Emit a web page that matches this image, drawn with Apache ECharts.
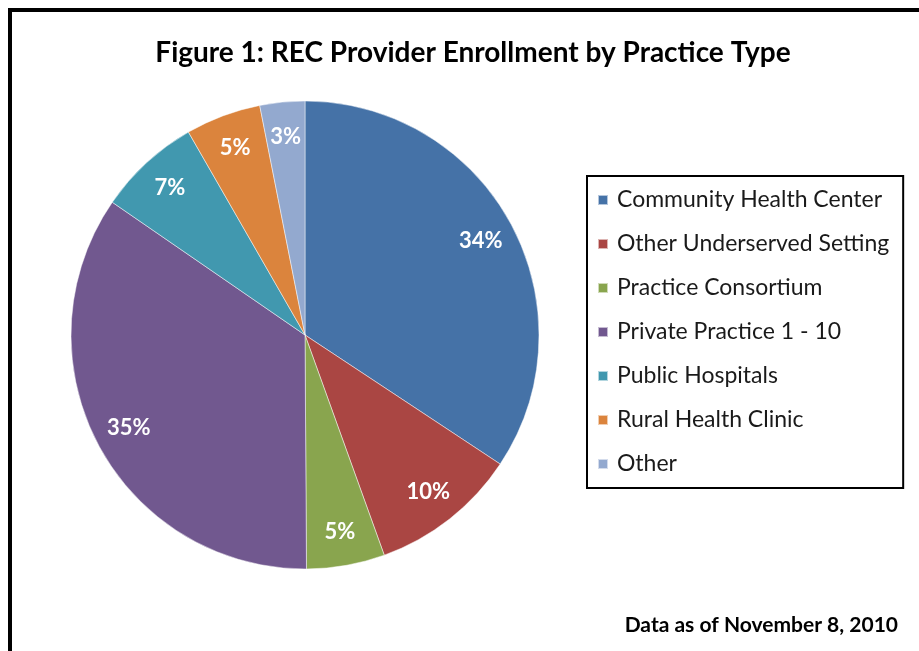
<!DOCTYPE html>
<html>
<head>
<meta charset="utf-8">
<script src="https://cdn.jsdelivr.net/npm/echarts@6/dist/echarts.min.js"></script>
<style>
html,body{margin:0;padding:0;background:#fff;}
#chart{width:919px;height:651px;}
</style>
</head>
<body>
<div id="chart"></div>
<script>
var categories = ['Community Health Center','Other Underserved Setting','Practice Consortium','Private Practice 1 - 10','Public Hospitals','Rural Health Clinic','Other'];
var values = [34.3, 10.2, 5.4, 34.7, 7.1, 5.2, 3.1];
var colors = ['#4572A7','#AA4643','#89A54E','#71588F','#4198AF','#DB843D','#93A9CF'];

var chart = echarts.init(document.getElementById('chart'), null, {renderer:'canvas'});
var data = categories.map(function(c,i){ return {name:c, value:values[i], itemStyle:{color:colors[i]}}; });
var FONT = 'Lato';
chart.setOption({
  animation:false,
  backgroundColor:'#fff',
  color: colors,
  title:{
    text:'Figure 1: REC Provider Enrollment by Practice Type',
    left:468, top:34, textAlign:'center',
    textStyle:{fontFamily:FONT, fontWeight:'bold', fontSize:28, color:'#000'}
  },
  legend:{
    orient:'vertical', left:587, top:176,
    data: categories,
    icon:'rect', itemWidth:10, itemHeight:10, itemGap:20,
    borderColor:'#000', borderWidth:2, backgroundColor:'#fff',
    padding:[12, 14, 12, 10],
    textStyle:{fontFamily:FONT, fontSize:23, color:'#1a1a1a', lineHeight:24, padding:[0,0,0,4]}
  },
  graphic:[
    {type:'rect', shape:{x:10, y:10, width:1200, height:1200}, style:{fill:'none', stroke:'#000', lineWidth:4}, silent:true},
    {type:'text', right:21, top:615, style:{text:'Data as of November 8, 2010', font:'bold 21px Lato', fill:'#000'}}
  ],
  series:[
    {
      type:'pie', center:[305,335], radius:[0,234], startAngle:90, clockwise:true,
      data:data, label:{show:false}, labelLine:{show:false},
      itemStyle:{borderColor:'rgba(255,255,255,0.6)', borderWidth:0.8},
      emphasis:{disabled:true}
    },
    {
      type:'pie', center:[305,335], radius:[159,234], startAngle:90, clockwise:true,
      data: categories.map(function(c,i){ return {name:c, value:values[i]}; }),
      itemStyle:{color:'rgba(0,0,0,0)'},
      silent:true, emphasis:{disabled:true},
      label:{show:true, position:'inside', color:'#fff', fontFamily:FONT, fontWeight:'bold', fontSize:22,
        formatter:function(p){ return Math.round(p.value) + '%'; }},
      labelLine:{show:false}
    }
  ]
});
</script>
</body>
</html>
